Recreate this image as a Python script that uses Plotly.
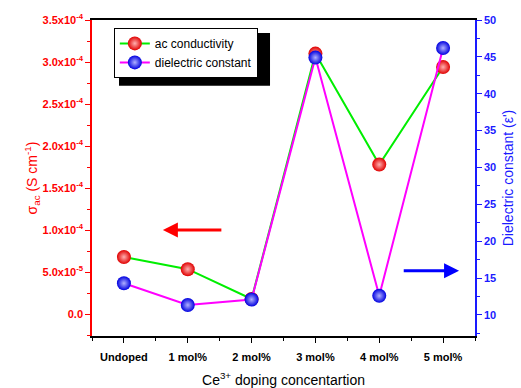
import plotly.graph_objects as go

categories = ["Undoped", "1 mol%", "2 mol%", "3 mol%", "4 mol%", "5 mol%"]
x_pos = [0, 1, 2, 3, 4, 5]
ac_conductivity = [6.8e-5, 5.35e-5, 1.8e-5, 3.1e-4, 1.78e-4, 2.94e-4]
dielectric_constant = [14.3, 11.35, 12.1, 44.9, 12.6, 46.2]

left_ticks = [0.0, 0.5e-4, 1.0e-4, 1.5e-4, 2.0e-4, 2.5e-4, 3.0e-4, 3.5e-4]
left_ticktext = ["0.0", "5.0x10<sup>-5</sup>", "1.0x10<sup>-4</sup>", "1.5x10<sup>-4</sup>",
                 "2.0x10<sup>-4</sup>", "2.5x10<sup>-4</sup>", "3.0x10<sup>-4</sup>", "3.5x10<sup>-4</sup>"]
right_ticks = [10, 15, 20, 25, 30, 35, 40, 45, 50]

RED = "#ff0000"
BLUE = "#1a1aff"
font_fam = "Arial, Liberation Sans, sans-serif"

fig = go.Figure()
fig.add_trace(go.Scatter(
    x=x_pos, y=ac_conductivity, name="ac conductivity", mode="lines+markers",
    line=dict(color="#00ee00", width=2),
    marker=dict(size=14, color="#e00000", line=dict(width=0),
                gradient=dict(type="radial", color="#ffb0b0")),
    yaxis="y"))
fig.add_trace(go.Scatter(
    x=x_pos, y=dielectric_constant, name="dielectric constant", mode="lines+markers",
    line=dict(color="#ff00ff", width=2),
    marker=dict(size=14, color="#0000e0", line=dict(width=0),
                gradient=dict(type="radial", color="#b0b0ff")),
    yaxis="y2"))

# arrows
fig.add_annotation(x=0.61, y=1.0e-4, ax=1.55, ay=1.0e-4, xref="x", yref="y", axref="x", ayref="y",
                   text="", showarrow=True, arrowhead=2, arrowsize=1, arrowwidth=3, arrowcolor=RED)
fig.add_annotation(x=5.25, y=16, ax=4.36, ay=16, xref="x", yref="y2", axref="x", ayref="y2",
                   text="", showarrow=True, arrowhead=2, arrowsize=1, arrowwidth=3, arrowcolor="#0000ff")

# legend shadow
fig.add_shape(type="rect", xref="paper", yref="paper", x0=0.0705, x1=0.4648, y0=0.792, y1=0.959,
              fillcolor="black", line=dict(width=0), layer="above")

fig.update_layout(
    width=521, height=388, margin=dict(l=92, r=46, t=20, b=52),
    paper_bgcolor="white", plot_bgcolor="white",
    font=dict(family=font_fam, color="black"),
    showlegend=True,
    legend=dict(x=0.057, y=0.975, xanchor="left", yanchor="top", bgcolor="white",
                bordercolor="black", borderwidth=1, font=dict(size=12, family=font_fam),
                itemwidth=30, tracegroupgap=0, traceorder="normal"),
    xaxis=dict(range=[-0.5, 5.5], tickvals=x_pos, ticktext=categories, automargin=False,
               tickfont=dict(size=11, color="black", weight="bold"),
               ticks="outside", ticklen=5, tickcolor="black", tickwidth=1, ticklabelstandoff=5,
               minor=dict(dtick=0.5, tick0=0.5, ticks="outside", ticklen=3, tickcolor="black"),
               showline=True, linecolor="black", linewidth=1.5, mirror=True,
               showgrid=False, zeroline=False,
               title=dict(text="Ce<sup>3+</sup> doping concentartion", font=dict(size=14), standoff=18)),
    yaxis=dict(range=[-0.26e-4, 3.5e-4], tickvals=left_ticks, ticktext=left_ticktext, automargin=False,
               tickfont=dict(size=11, color=RED, weight="bold"),
               ticks="outside", ticklen=5, tickcolor=RED, tickwidth=1,
               minor=dict(dtick=0.25e-4, tick0=0, ticks="outside", ticklen=3, tickcolor=RED),
               showline=True, linecolor=RED, linewidth=1.5,
               showgrid=False, zeroline=False,
               title=dict(text="σ<sub>ac</sub> (S cm<sup>-1</sup>)", font=dict(size=14, color=RED), standoff=2)),
    yaxis2=dict(range=[7.15, 50], overlaying="y", side="right", tickvals=right_ticks, automargin=False,
                tickfont=dict(size=11, color=BLUE, weight="bold"),
                ticks="outside", ticklen=5, tickcolor=BLUE, tickwidth=1,
                minor=dict(dtick=2.5, tick0=0, ticks="outside", ticklen=3, tickcolor=BLUE),
                showline=True, linecolor=BLUE, linewidth=1.5,
                showgrid=False, zeroline=False,
                title=dict(text="Dielectric constant (ε')", font=dict(size=14, color=BLUE), standoff=8)),
)

fig.write_html("out.html")
